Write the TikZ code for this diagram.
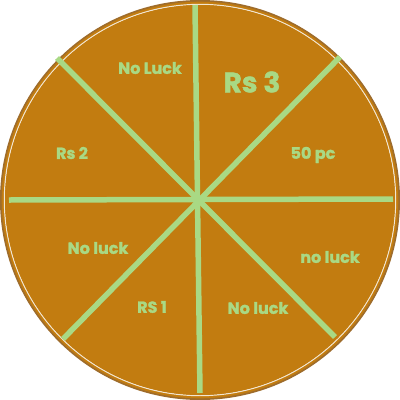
\documentclass[tikz,border=0pt]{standalone}
\usepackage{fontspec}
\setmainfont{Poppins}[BoldFeatures={FakeBold=1.6}]
\definecolor{wheelfill}{HTML}{C27C10}
\definecolor{wheeledge}{HTML}{9E6C2C}
\definecolor{spoke}{HTML}{A9D984}
\definecolor{ringline}{HTML}{F2E6D2}
\tikzset{
  spokeline/.style={draw=spoke, line width=5.5pt},
  lbl/.style={text=spoke, font=\bfseries\fontsize{16}{16}\selectfont, inner sep=0pt},
  biglbl/.style={text=spoke, font=\bfseries\fontsize{28}{28}\selectfont, inner sep=0pt}
}
\begin{document}
\begin{tikzpicture}[x=1pt,y=-1pt]
\useasboundingbox (0,0) rectangle (400,400);
\fill[wheeledge] (200,200) circle (200);
\fill[wheelfill] (200,200) circle (198.3);
\draw[ringline, line width=1.2pt] (200,200) circle (195.6);
\fill[wheelfill] (200,200) circle (195);
\coordinate (vt) at (195,5);
\coordinate (vb) at (200,393);
\coordinate (hl) at (9,200);
\coordinate (hr) at (393,199);
\coordinate (d1a) at (57,58);
\coordinate (d1b) at (335,337);
\coordinate (d2a) at (340,57);
\coordinate (d2b) at (63,339);
\draw[spokeline] (vt) -- (vb);
\draw[spokeline] (hl) -- (hr);
\draw[spokeline] (d1a) -- (d1b);
\draw[spokeline] (d2a) -- (d2b);
\node[lbl] (t1) at (150,68) {No Luck};
\node[biglbl] (t2) at (252,82) {Rs 3};
\node[lbl] (t3) at (72,153) {Rs 2};
\node[lbl] (t4) at (313,155) {50 pc};
\node[lbl] (t5) at (98,248) {No luck};
\node[lbl] (t6) at (152,307) {RS 1};
\node[lbl] (t7) at (258,308) {No luck};
\node[lbl] (t8) at (330,257) {no luck};
\end{tikzpicture}
\end{document}
